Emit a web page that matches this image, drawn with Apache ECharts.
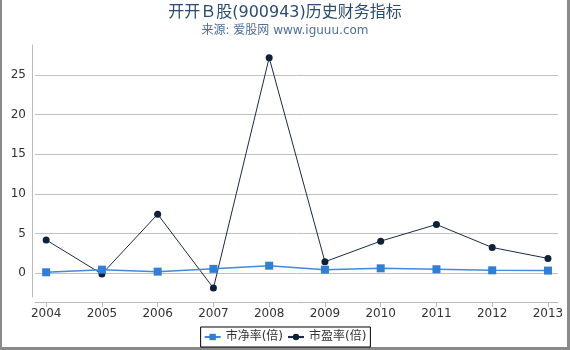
<!DOCTYPE html>
<html>
<head>
<meta charset="utf-8">
<script src="https://cdn.jsdelivr.net/npm/echarts@6/dist/echarts.min.js"></script>
<style>
html,body{margin:0;padding:0;background:#fff;}
#wrap{position:relative;width:570px;height:350px;box-sizing:border-box;border-left:2px solid #8a8a8a;border-right:3px solid #8a8a8a;border-bottom:3px solid #8a8a8a;}
#chart{position:absolute;left:-2px;top:0;width:570px;height:350px;}
</style>
</head>
<body>
<div id="wrap"><div id="chart"></div></div>
<script>
const years = [2004, 2005, 2006, 2007, 2008, 2009, 2010, 2011, 2012, 2013];
const pbValues = [0.12, 0.45, 0.2, 0.55, 0.95, 0.45, 0.62, 0.5, 0.37, 0.33];
const peValues = [4.2, -0.1, 7.45, -1.88, 27.2, 1.45, 4.05, 6.15, 3.25, 1.87];
const yTickLabels = [0, 5, 10, 15, 20, 25];
const seriesNames = ['市净率(倍)', '市盈率(倍)'];

const chart = echarts.init(document.getElementById('chart'), null, {renderer: 'canvas'});
const fontFam = '"DejaVu Sans", "Noto Sans CJK SC", sans-serif';
chart.setOption({
  animation: false,
  title: {
    text: '开开Ｂ股(900943)历史财务指标',
    subtext: '来源: 爱股网 www.iguuu.com',
    left: 'center',
    top: 0,
    itemGap: 4,
    textStyle: {fontSize: 16, fontWeight: 'normal', color: '#2b4b70', fontFamily: fontFam},
    subtextStyle: {fontSize: 12, color: '#4f6f99', fontFamily: fontFam}
  },
  legend: {
    bottom: 3,
    left: 'center',
    data: seriesNames,
    borderColor: '#000',
    borderWidth: 1,
    borderRadius: 0,
    padding: [4, 4, 4, 3],
    itemGap: 4,
    itemWidth: 16,
    itemHeight: 8,
    textStyle: {fontSize: 12, color: '#333', fontFamily: fontFam}
  },
  grid: {left: 35, right: 12, top: 45, bottom: 53, containLabel: false},
  xAxis: {
    type: 'value',
    min: 2003.8,
    max: 2013.18,
    offset: 5,
    axisLine: {show: true, onZero: false, lineStyle: {color: '#bbb'}},
    axisTick: {show: true, length: 5, lineStyle: {color: '#bbb'}, customValues: years},
    axisLabel: {customValues: years, formatter: v => String(v), color: '#333', fontSize: 12, margin: 6, fontFamily: fontFam},
    splitLine: {show: false}
  },
  yAxis: {
    type: 'value',
    min: -3,
    max: 28.8,
    offset: 3,
    axisLine: {show: true, onZero: false, lineStyle: {color: '#bbb'}},
    axisTick: {show: false},
    axisLabel: {customValues: yTickLabels, color: '#333', fontSize: 12, margin: 6, fontFamily: fontFam},
    splitLine: {show: true, showMinLine: false, showMaxLine: false, lineStyle: {color: '#c0c0c0'}}
  },
  series: [
    {
      name: seriesNames[0],
      type: 'line',
      data: years.map((y, i) => [y, pbValues[i]]),
      symbol: 'rect',
      symbolSize: 8,
      color: '#2f7ed8',
      lineStyle: {width: 1.5, color: '#4189dc'},
      itemStyle: {color: '#2f7ed8'},
      z: 3
    },
    {
      name: seriesNames[1],
      type: 'line',
      data: years.map((y, i) => [y, peValues[i]]),
      symbol: 'circle',
      symbolSize: 7,
      color: '#0f203a',
      lineStyle: {width: 1, color: '#1a2a44'},
      itemStyle: {color: '#0f203a'},
      z: 2
    }
  ]
});
</script>
</body>
</html>
